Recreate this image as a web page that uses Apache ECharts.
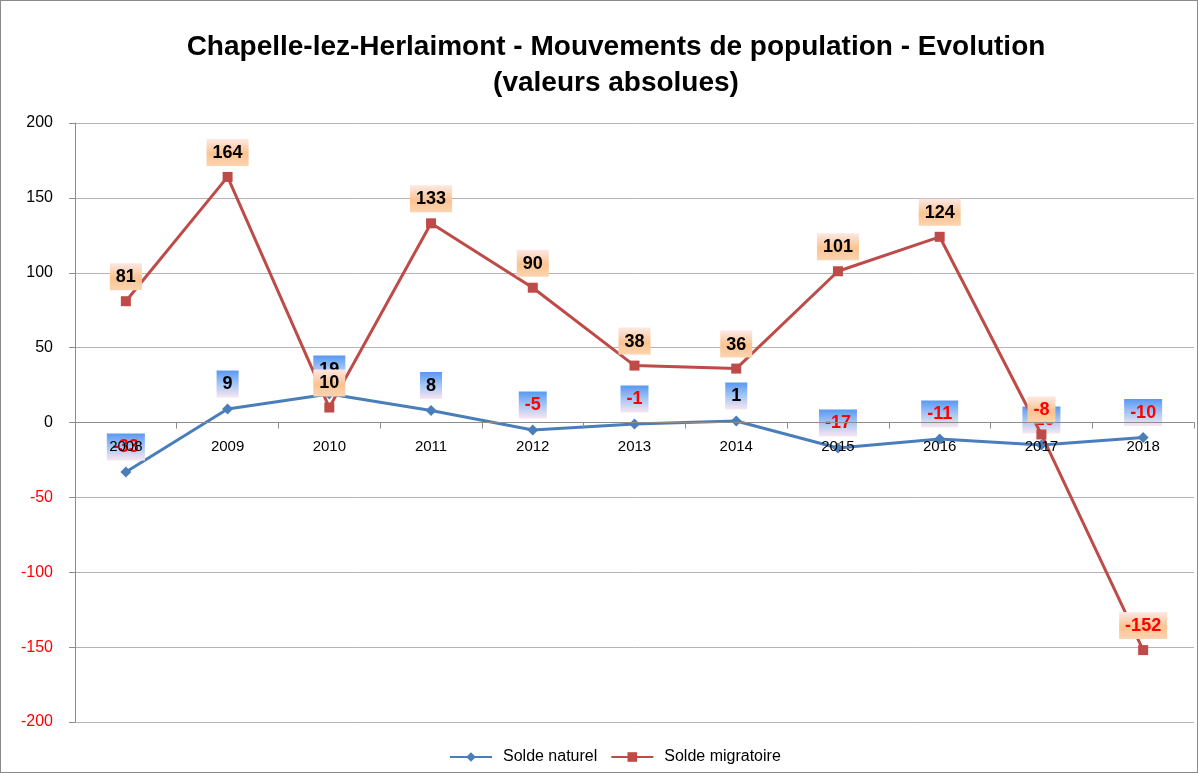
<!DOCTYPE html>
<html>
<head>
<meta charset="utf-8">
<script src="https://cdn.jsdelivr.net/npm/echarts@6/dist/echarts.min.js"></script>
<style>
html, body { margin: 0; padding: 0; background: #fff; }
#main { width: 1196px; height: 771px; border: 1px solid #8a8a8a; }
</style>
</head>
<body>
<div id="main"></div>
<script>
// données
var years = ['2008', '2009', '2010', '2011', '2012', '2013', '2014', '2015', '2016', '2017', '2018'];
var soldeNaturel = [-33, 9, 19, 8, -5, -1, 1, -17, -11, -15, -10];
var soldeMigratoire = [81, 164, 10, 133, 90, 38, 36, 101, 124, -8, -152];

var blueBg = new echarts.graphic.LinearGradient(0, 0, 0, 1, [
    {offset: 0, color: '#5898f2'},
    {offset: 0.5, color: '#a6c6f4'},
    {offset: 1, color: '#f8e6f0'}
]);
var orangeBg = new echarts.graphic.LinearGradient(0, 0, 0, 1, [
    {offset: 0, color: '#fde8e4'},
    {offset: 0.55, color: '#fbc390'},
    {offset: 1, color: '#fcd4b0'}
]);

function labelOf(bg) {
    return {
        show: true,
        position: 'top',
        distance: 6,
        fontFamily: 'Liberation Sans',
        fontWeight: 'bold',
        fontSize: 18,
        backgroundColor: bg,
        padding: [5, 6, 4, 6],
        formatter: function (p) {
            return p.value < 0 ? '{neg|' + p.value + '}' : '{pos|' + p.value + '}';
        },
        rich: {
            pos: {color: '#000', fontWeight: 'bold', fontSize: 18, fontFamily: 'Liberation Sans'},
            neg: {color: '#ff0000', fontWeight: 'bold', fontSize: 18, fontFamily: 'Liberation Sans'}
        }
    };
}

var myChart = echarts.init(document.getElementById('main'));
var option = {
    backgroundColor: '#fff',
    animation: false,
    title: {
        text: 'Chapelle-lez-Herlaimont - Mouvements de population - Evolution\n(valeurs absolues)',
        left: 610,
        textAlign: 'center',
        top: 23,
        textStyle: {
            fontFamily: 'Liberation Sans',
            fontWeight: 'bold',
            fontSize: 28,
            lineHeight: 36,
            color: '#000'
        }
    },
    grid: {
        left: 74,
        right: 3,
        top: 122,
        bottom: 50
    },
    legend: {
        bottom: 2,
        left: 443,
        itemWidth: 42,
        itemHeight: 12,
        itemGap: 13,
        textStyle: {fontFamily: 'Liberation Sans', fontSize: 16, color: '#000', padding: [0, 0, 0, 6]},
        data: ['Solde naturel', 'Solde migratoire']
    },
    xAxis: {
        type: 'category',
        data: years,
        boundaryGap: true,
        axisLine: {onZero: true, lineStyle: {color: '#8c8c8c', width: 1}},
        axisTick: {show: true, length: 6, inside: false, lineStyle: {color: '#8c8c8c'}},
        // étiquettes ramenées au niveau de la ligne du zéro
        axisLabel: {
            color: '#000', fontSize: 15, fontFamily: 'Liberation Sans', margin: -283,
            showMinLabel: true, showMaxLabel: true, hideOverlap: false, interval: 0
        },
        z: 5
    },
    yAxis: {
        type: 'value',
        min: -200,
        max: 200,
        interval: 50,
        axisLine: {show: true, lineStyle: {color: '#8c8c8c'}},
        axisTick: {show: true, length: 6, lineStyle: {color: '#8c8c8c'}},
        splitLine: {lineStyle: {color: '#b4b4b4'}},
        axisLabel: {
            fontSize: 16,
            fontFamily: 'Liberation Sans',
            margin: 22,
            color: function (v) { return v < 0 ? '#ff0000' : '#000'; }
        }
    },
    series: [{
        name: 'Solde naturel',
        type: 'line',
        data: soldeNaturel,
        symbol: 'diamond',
        symbolSize: 11,
        lineStyle: {color: '#4a7ebb', width: 3},
        itemStyle: {color: '#4a7ebb'},
        label: labelOf(blueBg),
        z: 2
    }, {
        name: 'Solde migratoire',
        type: 'line',
        data: soldeMigratoire,
        symbol: 'rect',
        symbolSize: 10,
        lineStyle: {color: '#be4b48', width: 3},
        itemStyle: {color: '#be4b48'},
        label: labelOf(orangeBg),
        z: 3
    }]
};
myChart.setOption(option);
</script>
</body>
</html>
